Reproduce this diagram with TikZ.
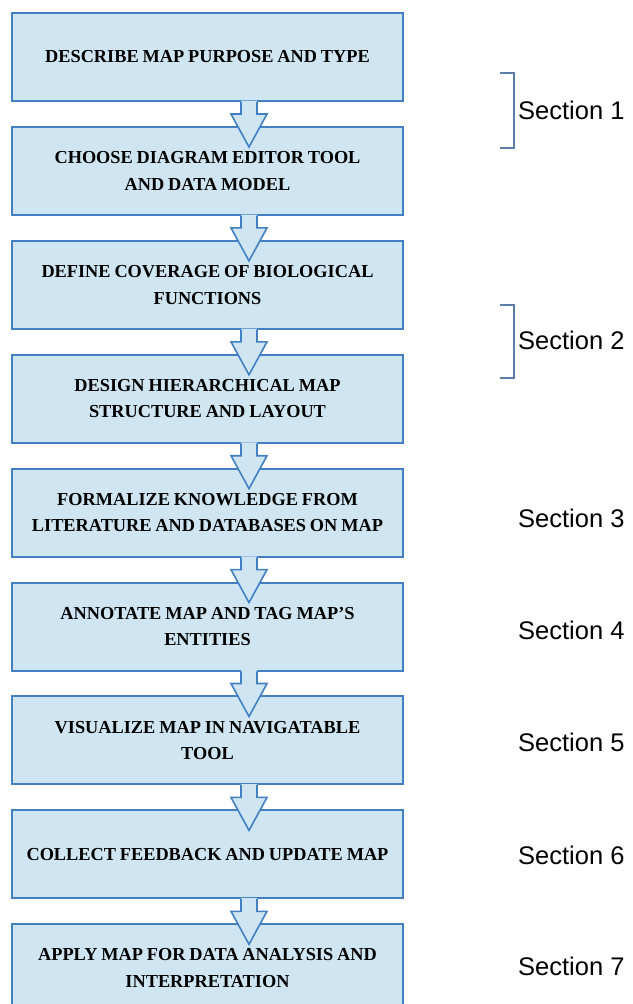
\documentclass[tikz,border=0pt]{standalone}
\usepackage{fontspec}
\setmainfont{Liberation Serif}
\newfontfamily\boxfont{Liberation Serif}[WordSpace=0.85]
\newfontfamily\secfont{Liberation Sans}
\usetikzlibrary{calc}
\definecolor{boxfill}{RGB}{207,230,242}
\definecolor{boxline}{RGB}{66,128,194}
\definecolor{brk}{RGB}{92,126,166}
\begin{document}
\begin{tikzpicture}[x=1pt,y=-1pt,
  stepbox/.style={draw=boxline, line width=2pt, fill=boxfill,
    minimum width=391pt, minimum height=88pt, inner sep=0pt,
    align=center, text=black,
    font=\boxfont\bfseries\fontsize{18.3}{26.5}\selectfont},
  seclabel/.style={anchor=west, inner sep=0pt, text=black,
    font=\secfont\fontsize{25.5}{28}\selectfont},
  flowarrow/.style={draw=boxline, line width=1.6pt, line join=miter},
  bracket/.style={draw=brk, line width=1.4pt}]
\useasboundingbox (0,0) rectangle (632,1004);
\clip (0,0) rectangle (632,1004);

\node[stepbox] (b1) at (207.5,57.0) {DESCRIBE MAP PURPOSE AND TYPE};
\node[stepbox] (b2) at (207.5,170.9) {CHOOSE DIAGRAM EDITOR TOOL\\AND DATA MODEL};
\node[stepbox] (b3) at (207.5,284.8) {DEFINE COVERAGE OF BIOLOGICAL\\FUNCTIONS};
\node[stepbox] (b4) at (207.5,398.7) {DESIGN HIERARCHICAL MAP\\STRUCTURE AND LAYOUT};
\node[stepbox] (b5) at (207.5,512.6) {FORMALIZE KNOWLEDGE FROM\\LITERATURE AND DATABASES ON MAP};
\node[stepbox] (b6) at (207.5,626.5) {ANNOTATE MAP AND TAG MAP’S\\ENTITIES};
\node[stepbox] (b7) at (207.5,740.4) {VISUALIZE MAP IN NAVIGATABLE\\TOOL};
\node[stepbox] (b8) at (207.5,854.3) {COLLECT FEEDBACK AND UPDATE MAP};
\node[stepbox] (b9) at (207.5,968.2) {APPLY MAP FOR DATA ANALYSIS AND\\INTERPRETATION};

\foreach \i in {1,...,8}{
  \coordinate (s\i) at ($(b\i.south)+(41.5,0)$);
  \fill[boxfill] ($(s\i)+(-8,-1.3)$) -- ($(s\i)+(-8,12)$) -- ($(s\i)+(-18,12)$)
     -- ($(s\i)+(0,45)$) -- ($(s\i)+(18,12)$) -- ($(s\i)+(8,12)$)
     -- ($(s\i)+(8,-1.3)$) -- cycle;
  \draw[flowarrow] ($(s\i)+(-8,-0.2)$) -- ($(s\i)+(-8,12)$) -- ($(s\i)+(-18,12)$)
     -- ($(s\i)+(0,45)$) -- ($(s\i)+(18,12)$) -- ($(s\i)+(8,12)$)
     -- ($(s\i)+(8,-0.2)$);
}

\draw[bracket] (500,73) -- (514,73) -- (514,148) -- (500,148);
\draw[bracket] (500,305) -- (514,305) -- (514,378) -- (500,378);

\node[seclabel] (l1) at (518,110) {Section 1};
\node[seclabel] (l2) at (518,340) {Section 2};
\node[seclabel] (l3) at (518,518) {Section 3};
\node[seclabel] (l4) at (518,630) {Section 4};
\node[seclabel] (l5) at (518,742) {Section 5};
\node[seclabel] (l6) at (518,855) {Section 6};
\node[seclabel] (l7) at (518,966) {Section 7};
\end{tikzpicture}
\end{document}
